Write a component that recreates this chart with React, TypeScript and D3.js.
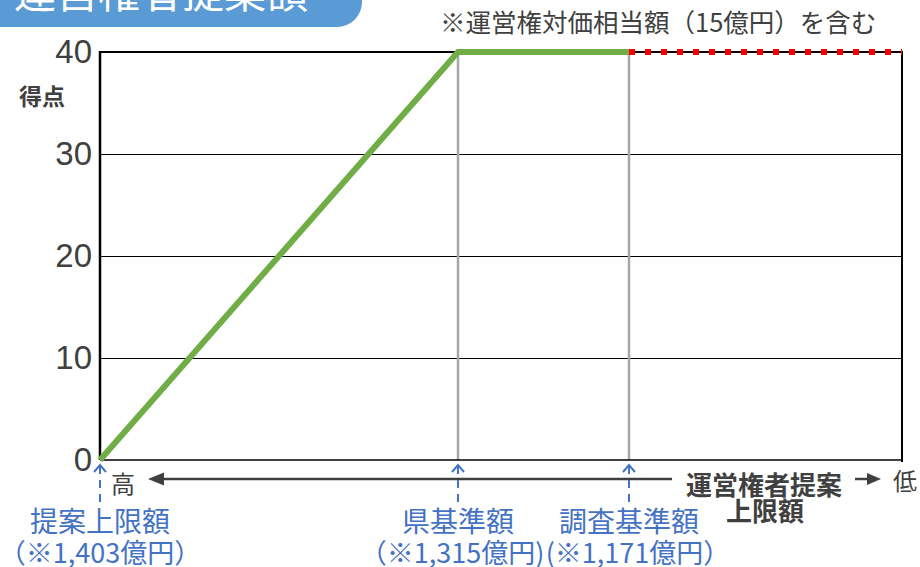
import React from 'react';
import * as d3 from 'd3';

// proposal amounts (億円) and scores
const amounts = [1403, 1315, 1171];
const scores = [0, 40, 40];
const markerLabels = ['提案上限額', '県基準額', '調査基準額'];
const amountLabels = ['（※1,403億円）', '（※1,315億円)', '(※1,171億円）'];
const yTicks = [0, 10, 20, 30, 40];

const title = '運営権者提案額';
const note = '※運営権対価相当額（15億円）を含む';

const W = 920;
const H = 567;
const plot = { left: 100, right: 902, top: 52, bottom: 460 };
const font = '"Noto Sans CJK JP", "Noto Sans", sans-serif';
const dark = '#404040';
const blue = '#4472c4';

const App: React.FC = () => {
  // x axis isn't linear in the source; piecewise scale through the marker amounts
  const x = d3.scaleLinear().domain(amounts).range([plot.left, 458, 629]);
  const y = d3.scaleLinear().domain([0, 40]).range([plot.bottom, plot.top]);

  const pts = amounts.map((a, i) => ({ a, s: scores[i] }));
  const line = d3.line<{ a: number; s: number }>()
    .x(d => x(d.a))
    .y(d => y(d.s));

  const last = pts[pts.length - 1];

  return (
    <svg width={W} height={H} style={{ position: 'absolute', left: 0, top: 0, background: '#fff' }}
      fontFamily={font}>
      {/* title tab */}
      <path d="M0,0 H362 V2 A25,25 0 0 1 337,27 H0 Z" fill="#5b9bd5" />
      <text x={14} y={8} fontSize={42} fill="#fff">{title}</text>

      {/* note */}
      <text x={440} y={32} fontSize={25.5} fill={dark}>{note}</text>

      {/* gridlines */}
      {yTicks.filter(t => t > 0 && t < 40).map(t => (
        <line key={t} x1={plot.left} x2={plot.right} y1={y(t) + 0.5} y2={y(t) + 0.5}
          stroke="#000" strokeWidth={1} shapeRendering="crispEdges" />
      ))}

      {/* vertical reference lines */}
      {amounts.slice(1).map(a => (
        <line key={a} x1={x(a)} x2={x(a)} y1={plot.top} y2={plot.bottom} stroke="#a6a6a6" strokeWidth={2.5} />
      ))}

      {/* frame */}
      <line x1={plot.left} x2={plot.right} y1={plot.top} y2={plot.top} stroke="#000" strokeWidth={2} />
      <line x1={plot.left} x2={plot.right} y1={plot.bottom} y2={plot.bottom} stroke="#000" strokeWidth={1.5} />
      <line x1={plot.left} x2={plot.left} y1={plot.top - 1} y2={plot.bottom} stroke="#000" strokeWidth={2.5} />
      <line x1={plot.right} x2={plot.right} y1={plot.top - 1} y2={plot.bottom + 2} stroke="#000" strokeWidth={2} />

      {/* y tick labels */}
      {yTicks.map(t => (
        <text key={t} x={92} y={y(t) + 11} fontSize={33} fill={dark} textAnchor="end"
          fontFamily='"Liberation Sans", Arial, sans-serif'>{t}</text>
      ))}
      <text x={42} y={105} fontSize={23} fontWeight="bold" fill={dark} textAnchor="middle">得点</text>

      {/* red dotted continuation */}
      <line x1={x(last.a)} x2={plot.right} y1={y(last.s)} y2={y(last.s)}
        stroke="#ff0000" strokeWidth={6} strokeDasharray="6,10" />

      {/* score line */}
      <path d={line(pts) ?? ''} fill="none" stroke="#70ad47" strokeWidth={6} strokeLinejoin="miter" />

      {/* direction arrow */}
      <line x1={160} x2={672} y1={479} y2={479} stroke={dark} strokeWidth={2.5} />
      <path d="M148,479 L164,472.5 L164,485.5 Z" fill={dark} />
      <text x={123} y={493} fontSize={24} fill={dark} textAnchor="middle">高</text>
      <text x={764} y={495} fontSize={26} fontWeight="bold" fill={dark} textAnchor="middle">運営権者提案</text>
      <text x={765} y={521} fontSize={26} fontWeight="bold" fill={dark} textAnchor="middle">上限額</text>
      <line x1={855} x2={869} y1={479} y2={479} stroke={dark} strokeWidth={2.5} />
      <path d="M881,479 L867,473 L867,485 Z" fill={dark} />
      <text x={905} y={490} fontSize={24} fill={dark} textAnchor="middle">低</text>

      {/* blue markers */}
      {amounts.map((a, i) => (
        <g key={a}>
          <path d={`M${x(a) - 6},${472} L${x(a)},${465} L${x(a) + 6},${472}`} fill="none" stroke={blue} strokeWidth={2} />
          <line x1={x(a)} x2={x(a)} y1={466} y2={502} stroke={blue} strokeWidth={2} strokeDasharray="8,6" />
          <text x={x(a)} y={532} fontSize={28} fill={blue} textAnchor="middle">{markerLabels[i]}</text>
          <text x={x(a) + (i === 1 ? -6 : i === 2 ? 9 : 0)} y={563} fontSize={27} fill={blue} textAnchor="middle">{amountLabels[i]}</text>
        </g>
      ))}
    </svg>
  );
};

export default App;
